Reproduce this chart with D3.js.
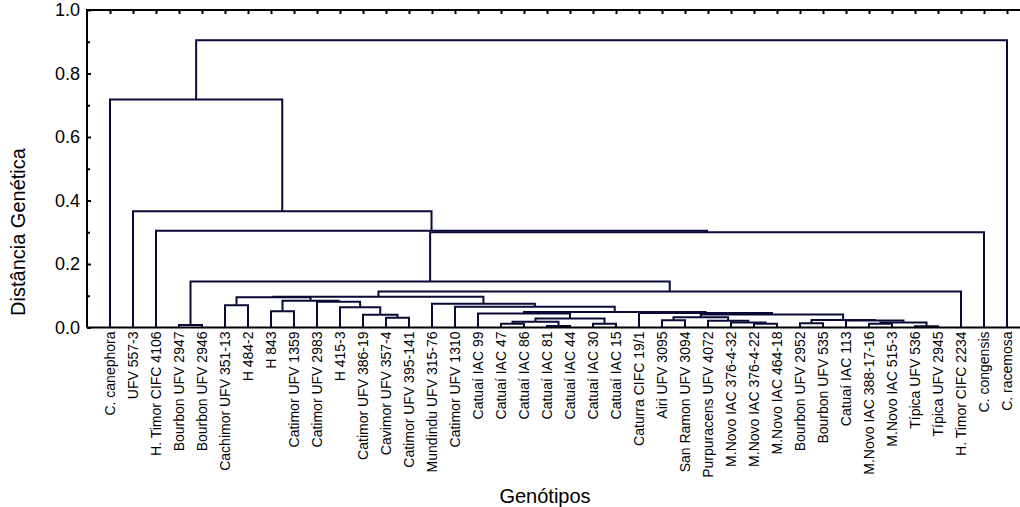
<!DOCTYPE html>
<html>
<head>
<meta charset="utf-8">
<script src="https://cdn.jsdelivr.net/npm/d3@7"></script>
<style>
  body { margin: 0; background: #fff; }
  svg { display: block; font-family: "Liberation Sans", Arial, sans-serif; }
</style>
</head>
<body>
<svg id="chart" width="1020" height="507"></svg>
<script>
// genotypes in leaf order
var genotypes = [
  "C. canephora", "UFV 557-3", "H. Timor CIFC 4106", "Bourbon UFV 2947", "Bourbon UFV 2946",
  "Cachimor UFV 351-13", "H 484-2", "H 843", "Catimor UFV 1359", "Catimor UFV 2983",
  "H 415-3", "Catimor UFV 386-19", "Cavimor UFV 357-4", "Catimor UFV 395-141", "Mundindu UFV 315-76",
  "Catimor UFV 1310", "Catuaí IAC 99", "Catuaí IAC 47", "Catuaí IAC 86", "Catuaí IAC 81",
  "Catuaí IAC 44", "Catuaí IAC 30", "Catuaí IAC 15", "Caturra CIFC 19/1", "Airi UFV 3095",
  "San Ramon UFV 3094", "Purpuracens UFV 4072", "M.Novo IAC 376-4-32", "M.Novo IAC 376-4-22", "M.Novo IAC 464-18",
  "Bourbon UFV 2952", "Bourbon UFV 535", "Catuaí IAC 113", "M.Novo IAC 388-17-16", "M.Novo IAC 515-3",
  "Típica UFV 536", "Típica UFV 2945", "H. Timor CIFC 2234", "C. congensis", "C. racemosa"
];

// linkage: [left, right, distance]; ids < 40 are genotypes, 40+k is merge k
var merges = [
  [3, 4, 0.008],    // 40
  [5, 6, 0.070],    // 41
  [7, 8, 0.051],    // 42
  [12, 13, 0.031],  // 43
  [11, 43, 0.040],  // 44
  [10, 44, 0.064],  // 45
  [9, 45, 0.081],   // 46
  [42, 46, 0.084],  // 47
  [41, 47, 0.095],  // 48
  [17, 18, 0.012],  // 49
  [19, 20, 0.005],  // 50
  [49, 50, 0.018],  // 51
  [21, 22, 0.012],  // 52
  [51, 52, 0.028],  // 53
  [16, 53, 0.044],  // 54
  [24, 25, 0.023],  // 55
  [28, 29, 0.012],  // 56
  [27, 56, 0.016],  // 57
  [26, 57, 0.021],  // 58
  [55, 58, 0.032],  // 59
  [30, 31, 0.013],  // 60
  [33, 34, 0.012],  // 61
  [35, 36, 0.004],  // 62
  [61, 62, 0.016],  // 63
  [32, 63, 0.022],  // 64
  [60, 64, 0.024],  // 65
  [59, 65, 0.041],  // 66
  [23, 66, 0.046],  // 67
  [54, 67, 0.049],  // 68
  [15, 68, 0.065],  // 69
  [14, 69, 0.075],  // 70
  [48, 70, 0.097],  // 71
  [71, 37, 0.113],  // 72
  [40, 72, 0.145],  // 73
  [73, 38, 0.300],  // 74
  [2, 74, 0.305],   // 75
  [1, 75, 0.366],   // 76
  [0, 76, 0.718],   // 77
  [77, 39, 0.905]   // 78
];

var yTicks = [0, 0.2, 0.4, 0.6, 0.8, 1.0];
var yMinorTicks = [0.1, 0.3, 0.5, 0.7, 0.9];

var svg = d3.select('#chart');
var n = genotypes.length;

var x = d3.scaleLinear().domain([-1, n]).range([87, 1030]);
var y = d3.scaleLinear().domain([0, 1]).range([327.5, 10]);

// build the tree from the linkage
function node(id) {
  if (id < n) return { name: genotypes[id], index: id, dist: 0 };
  var m = merges[id - n];
  return { name: 'm' + (id - n), dist: m[2], children: [node(m[0]), node(m[1])] };
}
var root = d3.hierarchy(node(n + merges.length - 1));

// leaves evenly spaced, clusters at the middle of their two children
root.eachAfter(function(d) {
  if (!d.children) d.px = x(d.data.index);
  else d.px = (d.children[0].px + d.children[1].px) / 2;
  d.py = y(d.data.dist);
});

var lineColor = '#0a0a38';
var tree = svg.append('g').attr('fill', 'none').attr('stroke', lineColor).attr('stroke-width', 2);

root.descendants().filter(function(d) { return d.children; }).forEach(function(d) {
  var a = d.children[0], b = d.children[1];
  tree.append('path')
    .attr('d', 'M' + a.px + ',' + a.py + 'V' + d.py + 'H' + b.px + 'V' + b.py);
});

// frame
var frame = svg.append('g').attr('stroke', '#000').attr('stroke-width', 2).attr('fill', 'none');
frame.append('path').attr('d', 'M' + x(-1) + ',' + y(0) + 'V' + y(1) + 'H1020');
frame.append('path').attr('d', 'M' + x(-1) + ',' + y(0) + 'H1020');

// top ticks at each genotype
svg.append('g')
  .attr('transform', 'translate(0,' + y(1) + ')')
  .call(d3.axisTop(x).tickValues(d3.range(0, n + 1)).tickSize(-4).tickFormat(''))
  .call(function(g) { g.select('.domain').remove(); })
  .selectAll('line').attr('stroke', '#000').attr('stroke-width', 2);

// y axis
var yAxis = svg.append('g')
  .attr('transform', 'translate(' + x(-1) + ',0)')
  .call(d3.axisLeft(y).tickValues(yTicks).tickSize(-4).tickPadding(7).tickFormat(d3.format('.1f')));
yAxis.select('.domain').remove();
yAxis.selectAll('line').attr('stroke', '#000').attr('stroke-width', 2);
yAxis.selectAll('text').attr('font-size', 18).attr('font-family', '"Liberation Sans", Arial, sans-serif').attr('fill', '#000');

var yMinor = svg.append('g')
  .attr('transform', 'translate(' + x(-1) + ',0)')
  .call(d3.axisLeft(y).tickValues(yMinorTicks).tickSize(-3).tickFormat(''));
yMinor.select('.domain').remove();
yMinor.selectAll('line').attr('stroke', '#000').attr('stroke-width', 2);

// genotype labels
svg.append('g').selectAll('text')
  .data(genotypes)
  .join('text')
  .attr('transform', function(d, i) { return 'translate(' + x(i) + ',' + (y(0) + 4) + ') rotate(-90)'; })
  .attr('text-anchor', 'end')
  .attr('dy', '0.35em')
  .attr('font-size', 14)
  .text(function(d) { return d; });

// axis titles
svg.append('text')
  .attr('transform', 'translate(18,232) rotate(-90)')
  .attr('text-anchor', 'middle')
  .attr('dy', '0.35em')
  .attr('font-size', 20)
  .text('Distância Genética');

svg.append('text')
  .attr('x', 545)
  .attr('y', 503)
  .attr('text-anchor', 'middle')
  .attr('font-size', 20)
  .text('Genótipos');
</script>
</body>
</html>
